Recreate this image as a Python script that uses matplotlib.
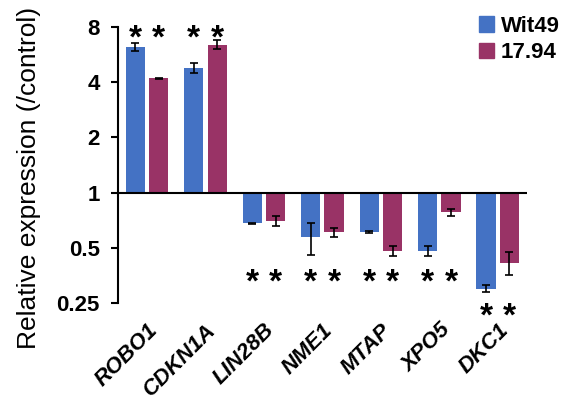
import matplotlib
matplotlib.use("Agg")
from matplotlib import pyplot as plt
from matplotlib.patches import Patch
import numpy as np

# - Data

genes = ["ROBO1", "CDKN1A", "LIN28B", "NME1", "MTAP", "XPO5", "DKC1"]
wit49 = [6.2, 4.8, 0.68, 0.57, 0.61, 0.48, 0.30]
wit49_err = [0.3, 0.3, 0.005, 0.115, 0.005, 0.03, 0.013]
c1794 = [4.2, 6.4, 0.70, 0.61, 0.48, 0.78, 0.415]
c1794_err = [0.03, 0.35, 0.045, 0.035, 0.03, 0.035, 0.06]
# y position of the significance stars for each gene
star_y = [6.83, 6.83, 0.32, 0.32, 0.32, 0.32, 0.21]
y_ticks = [0.25, 0.5, 1, 2, 4, 8]
y_tick_labels = ["0.25", "0.5", "1", "2", "4", "8"]

blue = "#4472C4"
maroon = "#993366"

plt.rcParams["font.family"] = ["Liberation Sans", "DejaVu Sans"]

# - Plot

fig = plt.figure(figsize=(5.83, 4.08), dpi=100)
ax = fig.add_axes([0.202, 0.257, 0.702, 0.677])

x = np.arange(len(genes))
w = 0.33
off = 0.2

ax.bar(x - off, np.array(wit49) - 1, bottom=1, width=w, color=blue, label="Wit49")
ax.bar(x + off, np.array(c1794) - 1, bottom=1, width=w, color=maroon, label="17.94")
ax.errorbar(x - off, wit49, yerr=wit49_err, fmt="none", ecolor="black", elinewidth=1.2, capsize=3, capthick=1.2)
ax.errorbar(x + off, c1794, yerr=c1794_err, fmt="none", ecolor="black", elinewidth=1.2, capsize=3, capthick=1.2)

# significance stars
for i in range(len(genes)):
    for dx in (-off, off):
        ax.text(x[i] + dx, star_y[i], "*", ha="center", va="center",
                fontsize=24, fontweight="bold", clip_on=False)

ax.set_yscale("log", base=2)
ax.set_ylim(0.25, 8)
ax.set_xlim(-0.5, len(genes) - 0.5)
ax.set_yticks(y_ticks)
ax.set_yticklabels(y_tick_labels, fontsize=16, fontweight="bold")
ax.yaxis.set_minor_locator(matplotlib.ticker.NullLocator())
ax.tick_params(axis="y", direction="out", length=5, width=1.5, pad=8)

ax.set_xticks(x)
ax.set_xticklabels(genes, rotation=45, ha="right", va="top", rotation_mode="anchor",
                   fontsize=16, fontweight="bold", fontstyle="italic")
ax.tick_params(axis="x", length=0, pad=12)

ax.axhline(1, color="black", linewidth=1.5)
for s in ("top", "right", "bottom"):
    ax.spines[s].set_visible(False)
ax.spines["left"].set_linewidth(1.5)

fig.text(0.05, 0.564, "Relative expression (/control)", rotation=90,
         ha="center", va="center", fontsize=19)

handles = [Patch(color=blue), Patch(color=maroon)]
leg = fig.legend(handles, ["Wit49", "17.94"], loc="upper right", bbox_to_anchor=(0.995, 1.01),
                 frameon=False, handlelength=0.7, handleheight=0.7, handletextpad=0.3,
                 labelspacing=0.25, prop={"size": 16, "weight": "bold"})

fig.savefig("out.png", dpi=100)
